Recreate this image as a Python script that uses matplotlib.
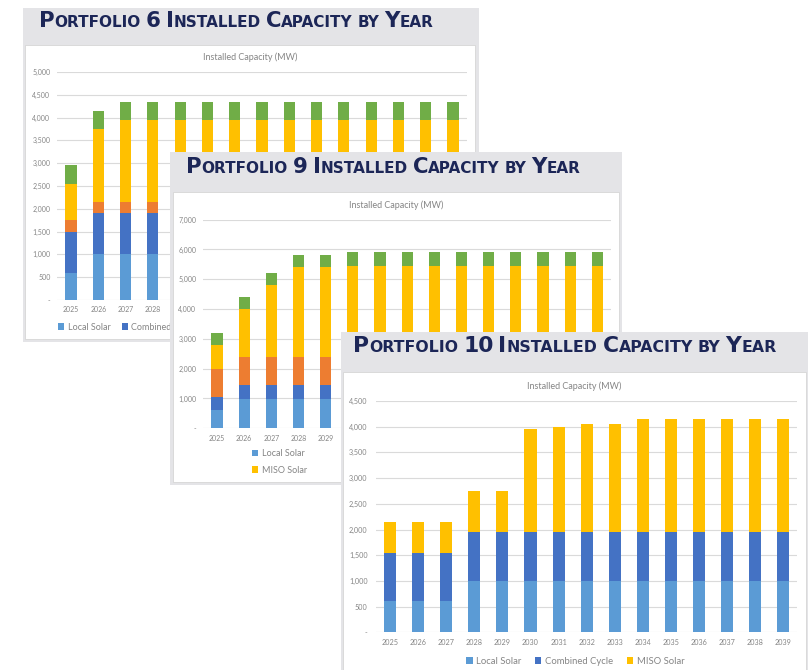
import numpy as np
import matplotlib.pyplot as plt
from matplotlib.patches import Rectangle
from matplotlib.ticker import FuncFormatter
from matplotlib.transforms import Bbox

plt.rcParams['font.family'] = ['Lato', 'DejaVu Sans']

# canvas size in pixels (dpi 100)
W, H = 808, 670

years = ['2025', '2026', '2027', '2028', '2029', '2030', '2031', '2032',
         '2033', '2034', '2035', '2036', '2037', '2038', '2039']

# ── Portfolio 6 (MW) ──
p6_local_solar = [600, 1000, 1000, 1000, 1000, 1000, 1000, 1000, 1000, 1000, 1000, 1000, 1000, 1000, 1000]
p6_combined_cycle = [900, 900, 900, 900, 900, 900, 900, 900, 900, 900, 900, 900, 900, 900, 900]
p6_combustion_turbine = [250, 250, 250, 250, 250, 250, 250, 250, 250, 250, 250, 250, 250, 250, 250]
p6_miso_solar = [800, 1600, 1800, 1800, 1800, 1800, 1800, 1800, 1800, 1800, 1800, 1800, 1800, 1800, 1800]
p6_storage = [400, 400, 400, 400, 400, 400, 400, 400, 400, 400, 400, 400, 400, 400, 400]

# ── Portfolio 9 (MW) ──
p9_local_solar = [600, 1000, 1000, 1000, 1000, 1000, 1000, 1000, 1000, 1000, 1000, 1000, 1000, 1000, 1000]
p9_combined_cycle = [450, 450, 450, 450, 450, 450, 450, 450, 450, 450, 450, 450, 450, 450, 450]
p9_combustion_turbine = [950, 950, 950, 950, 950, 950, 950, 950, 950, 950, 950, 950, 950, 950, 950]
p9_miso_solar = [800, 1600, 2400, 3000, 3000, 3050, 3050, 3050, 3050, 3050, 3050, 3050, 3050, 3050, 3050]
p9_storage = [400, 400, 400, 400, 430, 450, 450, 450, 450, 450, 450, 450, 450, 450, 450]

# ── Portfolio 10 (MW) ──
p10_local_solar = [600, 600, 600, 1000, 1000, 1000, 1000, 1000, 1000, 1000, 1000, 1000, 1000, 1000, 1000]
p10_combined_cycle = [950, 950, 950, 950, 950, 950, 950, 950, 950, 950, 950, 950, 950, 950, 950]
p10_miso_solar = [600, 600, 600, 800, 800, 2000, 2050, 2100, 2100, 2200, 2200, 2200, 2200, 2200, 2200]

C_LOCAL = '#5b9bd5'
C_CC = '#4472c4'
C_CT = '#ed7d31'
C_MISO = '#ffc000'
C_STOR = '#70ad47'

SLIDE_GRAY = '#e4e4e7'
TITLE_NAVY = '#1c2657'
TEXT_GRAY = '#858585'
GRID = '#dadada'


def fig_box(x0, y0, x1, y1):
    """pixel box (top-left origin) -> figure fraction rect"""
    return [x0 / W, 1 - y1 / H, (x1 - x0) / W, (y1 - y0) / H]


def fig_pt(x, y):
    return x / W, 1 - y / H


fig = plt.figure(figsize=(W / 100, H / 100), dpi=100, facecolor='white')
renderer = fig.canvas.get_renderer()


def title_runs(text):
    runs = []
    for ch in text:
        kind = 'space' if ch == ' ' else ('big' if (ch.isupper() or ch.isdigit()) else 'small')
        if runs and runs[-1][1] == kind:
            runs[-1][0] += ch
        else:
            runs.append([ch, kind])
    return runs


def small_caps_title(ax, x, y, text, target_w):
    """draws text in small caps, scaled to target width (px)"""
    def layout(big):
        arts = []
        cx = x
        for run, kind in title_runs(text):
            if kind == 'space':
                cx += 0.32 * big * len(run)
                continue
            size = big if kind == 'big' else big * 0.72
            t = ax.text(*fig_pt(cx, y), run.upper(), transform=fig.transFigure,
                        fontsize=size, fontweight='bold', color=TITLE_NAVY,
                        family='DejaVu Sans', ha='left', va='baseline')
            cx += t.get_window_extent(renderer).width
            arts.append(t)
        return arts, cx - x

    arts, w = layout(16)
    for a in arts:
        a.remove()
    layout(16 * target_w / w)


def draw_slide(outer, panel, z, title, title_xy, title_w):
    bg = fig.add_axes(fig_box(*outer), zorder=z)
    bg.axis('off')
    bg.add_patch(Rectangle((0, 0), 1, 1, transform=bg.transAxes,
                           facecolor=SLIDE_GRAY, edgecolor='none'))
    px0, py0, px1, py1 = panel
    bg.add_patch(Rectangle(fig_pt(px0, py1), (px1 - px0) / W, (py1 - py0) / H,
                           transform=fig.transFigure, facecolor='white',
                           edgecolor='#d6d6d6', lw=0.6))
    small_caps_title(bg, title_xy[0], title_xy[1], title, title_w)
    return bg


def draw_chart(box, z, series, ymax, ystep, bar_w, lab_size, ypad, xpad, title_xy):
    ax = fig.add_axes(fig_box(*box), zorder=z)
    ax.patch.set_visible(False)
    x = np.arange(len(years))
    bottom = np.zeros(len(years))
    bars = {}
    for name, vals, color in series:
        bars[name] = ax.bar(x, vals, bar_w, bottom=bottom, color=color,
                            label=name, zorder=2)
        bottom += np.array(vals)
    ax.set_xlim(-0.5, len(years) - 0.5)
    ax.set_ylim(0, ymax)
    ax.set_yticks(np.arange(0, ymax + 1, ystep))
    ax.yaxis.set_major_formatter(
        FuncFormatter(lambda v, p: '-' if v == 0 else f'{v:,.0f}'))
    ax.set_xticks(x, years)
    ax.grid(axis='y', color=GRID, lw=0.8, zorder=0)
    ax.set_axisbelow(True)
    for s in ax.spines.values():
        s.set_visible(False)
    ax.tick_params(axis='both', length=0, labelsize=lab_size, labelcolor=TEXT_GRAY)
    ax.tick_params(axis='y', pad=ypad)
    ax.tick_params(axis='x', pad=xpad)
    ax.text(*fig_pt(*title_xy), 'Installed Capacity (MW)', transform=fig.transFigure,
            ha='center', va='center', fontsize=6.5, color=TEXT_GRAY)
    return ax, bars


def hide_covered(ax, cover):
    """texts of ax lying under the next slide: hide them, or clip the ones only partly under it"""
    cx0, cy0, cx1, cy1 = cover
    top, bot = H - cy0, H - cy1
    texts = ax.get_xticklabels() + ax.get_yticklabels()
    if ax.get_legend() is not None:
        texts += ax.get_legend().get_texts()
    for t in texts:
        bb = t.get_window_extent(renderer)
        if bb.y1 < bot or bb.y0 > top or bb.x1 < cx0:
            continue
        if bb.x0 >= cx0:
            t.set_visible(False)
        else:
            t.set_clip_on(True)
            t.set_clip_path(None)
            t.set_clip_box(Bbox([[0, 0], [cx0, H]]))


SLIDE1 = (23, 8, 479, 342)
SLIDE2 = (170, 152, 622, 485)
SLIDE3 = (341, 332, 812, 674)

# ──────────────── Slide 1: Portfolio 6 ────────────────
draw_slide(SLIDE1, (25, 45, 475, 339), 1.0,
           'Portfolio 6 Installed Capacity by Year', (39, 26.7), 396)
ax1, b1 = draw_chart((57.4, 72, 466.6, 300), 1.1,
                     [('Local Solar', p6_local_solar, C_LOCAL),
                      ('Combined Cycle', p6_combined_cycle, C_CC),
                      ('Combustion Turbine', p6_combustion_turbine, C_CT),
                      ('MISO Solar', p6_miso_solar, C_MISO),
                      ('Storage', p6_storage, C_STOR)],
                     5000, 500, 0.41, 5, 5, 4.5, (250, 57))
ax1.legend(loc='center left', bbox_to_anchor=fig_pt(58, 327),
           bbox_transform=fig.transFigure, ncol=5, frameon=False, fontsize=6.5,
           handlelength=0.7, handleheight=0.7, handletextpad=0.4,
           columnspacing=1.2, labelcolor=TEXT_GRAY, borderpad=0, borderaxespad=0)

# ──────────────── Slide 2: Portfolio 9 ────────────────
draw_slide(SLIDE2, (173, 192, 619, 482), 2.0,
           'Portfolio 9 Installed Capacity by Year', (186, 173.3), 396)
ax2, b2 = draw_chart((203.4, 219.7, 610.9, 428.3), 2.1,
                     [('Local Solar', p9_local_solar, C_LOCAL),
                      ('Combined Cycle', p9_combined_cycle, C_CC),
                      ('Combustion Turbine', p9_combustion_turbine, C_CT),
                      ('MISO Solar', p9_miso_solar, C_MISO),
                      ('Storage', p9_storage, C_STOR)],
                     7000, 1000, 0.41, 5, 5, 4.5, (396, 205))
order = ['Local Solar', 'MISO Solar', 'Combined Cycle', 'Storage', 'Combustion Turbine']
ax2.legend([b2[k] for k in order], order, loc='upper left',
           bbox_to_anchor=fig_pt(252, 449), bbox_transform=fig.transFigure,
           ncol=3, frameon=False, fontsize=6.5, handlelength=0.7, handleheight=0.7,
           handletextpad=0.4, labelspacing=0.85, columnspacing=5,
           labelcolor=TEXT_GRAY, borderpad=0, borderaxespad=0)

# ──────────────── Slide 3: Portfolio 10 ────────────────
draw_slide(SLIDE3, (343, 372, 806, 672), 3.0,
           'Portfolio 10 Installed Capacity by Year', (353, 352.3), 422)
ax3, b3 = draw_chart((376, 401, 797.4, 632.3), 3.1,
                     [('Local Solar', p10_local_solar, C_LOCAL),
                      ('Combined Cycle', p10_combined_cycle, C_CC),
                      ('MISO Solar', p10_miso_solar, C_MISO)],
                     4500, 500, 0.43, 5.2, 6, 5, (574, 386))
ax3.legend(loc='center left', bbox_to_anchor=fig_pt(466, 661),
           bbox_transform=fig.transFigure, ncol=3, frameon=False, fontsize=6.8,
           handlelength=0.7, handleheight=0.7, handletextpad=0.4,
           columnspacing=1.4, labelcolor=TEXT_GRAY, borderpad=0, borderaxespad=0)

# labels that sit under an overlapping slide
fig.canvas.draw()
hide_covered(ax1, SLIDE2)
hide_covered(ax2, SLIDE3)

fig.savefig('out.png', dpi=100, facecolor='white')
